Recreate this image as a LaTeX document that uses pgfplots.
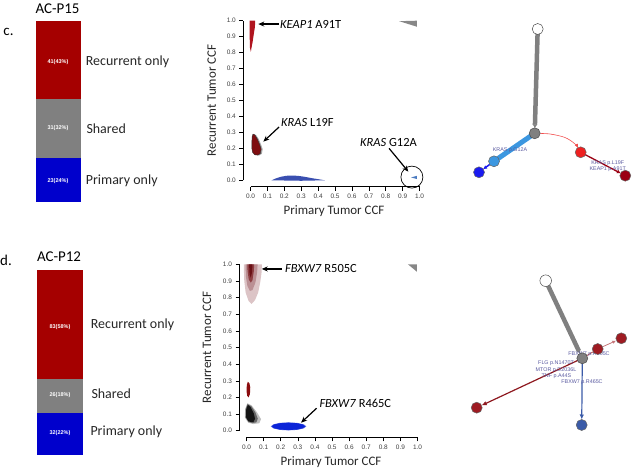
\documentclass[border=0pt]{standalone}
\usepackage{fontspec}
\setmainfont{Carlito}
\newfontfamily\arialf{Liberation Sans}
\usepackage{pgfplots}
\pgfplotsset{compat=1.18}
\usetikzlibrary{arrows.meta}
\definecolor{barred}{HTML}{A50000}
\definecolor{bargray}{HTML}{808080}
\definecolor{barblue}{HTML}{0000CC}
\definecolor{keapred}{HTML}{B0141F}
\definecolor{krasred}{HTML}{7E0D10}
\definecolor{humpblue}{HTML}{3A4FB0}
\definecolor{lblue}{HTML}{4B7BC0}
\definecolor{rose1}{HTML}{DCC4C6}
\definecolor{rose2}{HTML}{BB9094}
\definecolor{rose3}{HTML}{8E3E42}
\definecolor{rose4}{HTML}{6A1015}
\definecolor{ellblue}{HTML}{0B24D8}
\definecolor{treeblue}{HTML}{3C97E0}
\definecolor{treedblue}{HTML}{1A1AF0}
\definecolor{treered}{HTML}{EE2020}
\definecolor{treedred}{HTML}{9A0012}
\definecolor{treemred}{HTML}{9E1B22}
\definecolor{treenblue}{HTML}{3B5BA8}
\definecolor{txtblue}{HTML}{5A5AA0}
\pgfplotsset{
  rstyle/.style={
    scale only axis, xmin=0, xmax=1, ymin=0, ymax=1, clip=false,
    axis x line*=bottom, axis y line*=left, axis line style={-, black, line width=0.5bp},
    xtick={0,0.1,0.2,0.3,0.4,0.5,0.6,0.7,0.8,0.9,1},
    ytick={0,0.1,0.2,0.3,0.4,0.5,0.6,0.7,0.8,0.9,1},
    tick align=outside, major tick length=4bp, tick style={black, line width=0.5bp},
    /pgf/number format/assume math mode=true,
    xticklabel style={/pgf/number format/.cd, fixed, fixed zerofill, precision=1},
    yticklabel style={/pgf/number format/.cd, fixed, fixed zerofill, precision=1},
    tick label style={font=\arialf\fontsize{6.5}{7}\selectfont, text=black!75},
  },
  tree/.style={scale only axis, hide axis, y dir=reverse, clip=false, xmin=410, xmax=633, width=223bp},
  bars/.style={scale only axis, hide axis, ybar stacked, bar width=1, xmin=-0.5, xmax=0.5, clip=false},
}
\begin{document}
\begin{tikzpicture}
% ---------------- panel c ----------------
\node[font=\fontsize{15}{17}\selectfont] at (8.5bp,437.3bp) {c.};
\node[font=\fontsize{15}{17}\selectfont] at (57.5bp,460.7bp) {AC-P15};
\begin{axis}[bars, at={(36bp,267bp)}, anchor=south west, width=45bp, height=181bp, ymin=0, ymax=95]
\addplot[fill=barblue, draw=none] coordinates {(0,23)};
\addplot[fill=bargray, draw=none] coordinates {(0,31)};
\addplot[fill=barred, draw=none] coordinates {(0,41)};
\end{axis}
\begin{scope}[every node/.style={font=\arialf\bfseries\fontsize{5.5}{6}\selectfont, text=white}]
\node at (58bp,407bp) {41(43\%)};
\node at (58bp,341bp) {31(32\%)};
\node at (58bp,288bp) {23(24\%)};
\end{scope}
\begin{scope}[every node/.style={font=\fontsize{14}{16}\selectfont, anchor=west, inner sep=0pt, text=black!85}]
\node at (85.7bp,407.3bp) {Recurrent only};
\node at (86.3bp,340.7bp) {Shared};
\node at (85.7bp,288bp) {Primary only};
\end{scope}
\begin{axis}[rstyle, at={(250.5bp,288.7bp)}, anchor=south west, width=169bp, height=159.6bp,
  axis x line shift=6.4bp, axis y line shift=7.2bp]
% KEAP1 A91T wedge
\addplot[fill=keapred, draw=none] coordinates {(-0.005,1.0) (0.028,1.0) (0.026,0.96) (0.02,0.92) (0.013,0.87) (0.006,0.83) (0.002,0.805) (-0.003,0.83) (-0.005,0.9) (-0.005,0.97) (-0.005,1.0)};
% KRAS L19F blob
\addplot[fill=black!35, draw=none] coordinates {(0.02,0.29) (0.033,0.283) (0.048,0.26) (0.062,0.225) (0.072,0.195) (0.067,0.166) (0.052,0.156) (0.032,0.158) (0.02,0.175) (0.02,0.27) (0.02,0.29)};
\addplot[fill=krasred, draw=black!80, line width=0.4bp] coordinates {(0.015,0.29) (0.026,0.284) (0.04,0.26) (0.054,0.225) (0.063,0.195) (0.058,0.168) (0.044,0.158) (0.025,0.16) (0.012,0.175) (0.008,0.2) (0.008,0.24) (0.01,0.275) (0.015,0.29)};
% blue hump
\addplot[fill=humpblue, draw=none] coordinates {(0.125,0.0) (0.15,0.012) (0.18,0.022) (0.21,0.028) (0.24,0.03) (0.28,0.028) (0.32,0.022) (0.36,0.014) (0.40,0.007) (0.44,0.0) (0.3,-0.003) (0.125,0.0)};
% gray wedge
\addplot[fill=black!47, draw=none] coordinates {(0.88,0.997) (0.985,1.0) (0.985,0.962) (0.88,0.997)};
% KRAS G12A small blob and circle
\addplot[fill=lblue, draw=none] coordinates {(0.95,0.018) (0.985,0.028) (0.985,0.008) (0.95,0.018)};
\addplot[only marks, mark=o, mark size=11bp, mark options={draw=black, line width=0.7bp}] coordinates {(0.955,0.02)};
% arrows
\addplot[black, line width=1.2bp, -{Stealth[length=6bp,width=5bp]}] coordinates {(0.169,0.979) (0.046,0.979)};
\addplot[black, line width=1.2bp, -{Stealth[length=6bp,width=5bp]}] coordinates {(0.169,0.334) (0.076,0.242)};
\addplot[black, line width=1.2bp, -{Stealth[length=6bp,width=5bp]}] coordinates {(0.82,0.2) (0.934,0.054)};
\end{axis}
\node[rotate=90, font=\fontsize{13}{15}\selectfont, text=black!85] at (211.7bp,368.5bp) {Recurrent Tumor CCF};
\node[font=\fontsize{13}{15}\selectfont, text=black!85] at (334bp,258.3bp) {Primary Tumor CCF};
\begin{scope}[every node/.style={font=\fontsize{12.5}{14}\selectfont, anchor=west, inner sep=0pt}]
\node at (280bp,445bp) {\textit{KEAP1} A91T};
\node at (281bp,346.7bp) {\textit{KRAS} L19F};
\node at (360bp,326.3bp) {\textit{KRAS} G12A};
\node at (285bp,200bp) {\textit{FBXW7} R505C};
\node at (319.3bp,65.7bp) {\textit{FBXW7} R465C};
\end{scope}
% tree c
\begin{axis}[tree, at={(410bp,234bp)}, anchor=south west, ymin=0, ymax=235, height=235bp]
\addplot[black!50, line width=4.5bp, -{Latex[length=4bp,width=5bp]}, shorten >=5bp] coordinates {(537.7,29) (534.7,133.3)};
\addplot[treeblue, line width=5bp] coordinates {(534.7,133.3) (494,161.3)};
\addplot[treedblue, line width=1.5bp, -{Latex[length=4bp,width=4bp]}, shorten >=5bp] coordinates {(494,161.3) (479,172.3)};
\addplot[treered!80, line width=0.6bp, smooth, -{Latex[length=4bp,width=3.5bp]}, shorten >=5bp] coordinates {(534.7,133.3) (550,134) (565,137.5) (575,144) (580.7,152.3)};
\addplot[treedred, line width=1.3bp, -{Latex[length=4bp,width=4bp]}, shorten >=5bp] coordinates {(580.7,152.3) (625.3,175.7)};
\addplot[only marks, mark=*, mark size=5.5bp, mark options={fill=white, draw=black!70, line width=0.5bp}] coordinates {(537.7,29)};
\addplot[only marks, mark=*, mark size=5.5bp, mark options={fill=black!50, draw=black!70, line width=0.5bp}] coordinates {(534.7,133.3)};
\addplot[only marks, mark=*, mark size=5.5bp, mark options={fill=treeblue, draw=black!60, line width=0.5bp}] coordinates {(494,161.3)};
\addplot[only marks, mark=*, mark size=5.5bp, mark options={fill=treedblue, draw=black!60, line width=0.5bp}] coordinates {(479,172.3)};
\addplot[only marks, mark=*, mark size=5.5bp, mark options={fill=treered, draw=black!60, line width=0.5bp}] coordinates {(580.7,152.3)};
\addplot[only marks, mark=*, mark size=5.5bp, mark options={fill=treedred, draw=black!60, line width=0.5bp}] coordinates {(625.3,175.7)};
\begin{scope}[every node/.style={font=\arialf\fontsize{5.4}{6}\selectfont, text=txtblue, inner sep=0pt}]
\node at (axis cs:510,150) {KRAS p.G12A};
\node at (axis cs:607.7,163.3) {KRAS p.L19F};
\node at (axis cs:607.7,169.3) {KEAP1 p.A91T};
\end{scope}
\end{axis}
% ---------------- panel d ----------------
\node[font=\fontsize{15}{17}\selectfont] at (6bp,209bp) {d.};
\node[font=\fontsize{15}{17}\selectfont] at (59bp,212.3bp) {AC-P12};
\begin{axis}[bars, at={(37bp,14bp)}, anchor=south west, width=46bp, height=185bp, ymin=0, ymax=141]
\addplot[fill=barblue, draw=none] coordinates {(0,32)};
\addplot[fill=bargray, draw=none] coordinates {(0,26)};
\addplot[fill=barred, draw=none] coordinates {(0,83)};
\end{axis}
\begin{scope}[every node/.style={font=\arialf\bfseries\fontsize{5.5}{6}\selectfont, text=white}]
\node at (60bp,142bp) {83(58\%)};
\node at (60bp,74bp) {26(18\%)};
\node at (60bp,36bp) {32(22\%)};
\end{scope}
\begin{scope}[every node/.style={font=\fontsize{14}{16}\selectfont, anchor=west, inner sep=0pt, text=black!85}]
\node at (90.7bp,144bp) {Recurrent only};
\node at (91.3bp,75bp) {Shared};
\node at (90.3bp,37.3bp) {Primary only};
\end{scope}
\begin{axis}[rstyle, at={(246.5bp,38.3bp)}, anchor=south west, width=171bp, height=166.4bp,
  axis x line shift=6.6bp, axis y line shift=7bp]
% FBXW7 R505C contours
\addplot[fill=rose1, draw=none] coordinates {(-0.015,1.0) (0.09,1.0) (0.088,0.95) (0.08,0.89) (0.068,0.83) (0.05,0.785) (0.03,0.762) (0.012,0.78) (-0.005,0.83) (-0.013,0.9) (-0.015,0.96) (-0.015,1.0)};
\addplot[fill=rose2, draw=none] coordinates {(-0.005,1.0) (0.065,1.0) (0.062,0.95) (0.052,0.89) (0.035,0.845) (0.02,0.84) (0.005,0.87) (-0.004,0.93) (-0.005,1.0)};
\addplot[fill=rose3, draw=none] coordinates {(0.005,1.0) (0.045,1.0) (0.043,0.96) (0.035,0.905) (0.025,0.89) (0.013,0.91) (0.006,0.96) (0.005,1.0)};
\addplot[fill=rose4, draw=none] coordinates {(0.015,1.0) (0.035,1.0) (0.032,0.95) (0.025,0.92) (0.018,0.94) (0.015,1.0)};
% small red blob
\addplot[fill=krasred!90!red, draw=none] coordinates {(0.008,0.295) (0.017,0.285) (0.022,0.26) (0.02,0.22) (0.012,0.2) (0.004,0.21) (0.0,0.24) (0.002,0.275) (0.008,0.295)};
% black blob
\addplot[fill=black!25, draw=none] coordinates {(0.005,0.165) (0.03,0.152) (0.06,0.112) (0.085,0.07) (0.075,0.045) (0.04,0.04) (0.01,0.048) (-0.01,0.08) (-0.008,0.13) (0.005,0.165)};
\addplot[fill=black!60, draw=none] coordinates {(0.006,0.16) (0.028,0.148) (0.052,0.11) (0.066,0.072) (0.058,0.05) (0.035,0.046) (0.012,0.052) (-0.006,0.08) (-0.005,0.13) (0.006,0.16)};
\addplot[fill=black!92, draw=none] coordinates {(0.008,0.155) (0.024,0.142) (0.042,0.105) (0.05,0.072) (0.042,0.054) (0.025,0.052) (0.01,0.058) (-0.002,0.08) (-0.002,0.125) (0.008,0.155)};
% blue ellipse
\addplot[fill=ellblue!70!white, draw=none] coordinates {(0.35,0.026) (0.335,0.038) (0.296,0.047) (0.245,0.05) (0.194,0.047) (0.157,0.038) (0.142,0.026) (0.157,0.014) (0.194,0.005) (0.245,0.002) (0.296,0.005) (0.335,0.014) (0.35,0.026)};
\addplot[fill=ellblue, draw=none] coordinates {(0.342,0.026) (0.329,0.037) (0.294,0.045) (0.245,0.048) (0.197,0.045) (0.161,0.037) (0.148,0.026) (0.161,0.015) (0.197,0.007) (0.245,0.004) (0.294,0.007) (0.329,0.015) (0.342,0.026)};
% gray wedge
\addplot[fill=black!47, draw=none] coordinates {(0.944,1.0) (0.997,1.0) (0.997,0.955) (0.944,1.0)};
% arrows
\addplot[black, line width=1.2bp, -{Stealth[length=6bp,width=5bp]}] coordinates {(0.206,0.972) (0.089,0.972)};
\addplot[black, line width=1.2bp, -{Stealth[length=6bp,width=5bp]}] coordinates {(0.41,0.135) (0.319,0.048)};
\end{axis}
\node[rotate=90, font=\fontsize{13}{15}\selectfont, text=black!85] at (207bp,121.5bp) {Recurrent Tumor CCF};
\node[font=\fontsize{13}{15}\selectfont, text=black!85] at (331bp,7.3bp) {Primary Tumor CCF};
% tree d
\begin{axis}[tree, at={(410bp,0bp)}, anchor=south west, ymin=240, ymax=469, height=229bp]
\addplot[black!50, line width=4.5bp, -{Latex[length=4bp,width=5bp]}, shorten >=5bp] coordinates {(545.7,280.7) (582.3,358.3)};
\addplot[treemred!90!black, line width=1.2bp, -{Latex[length=5bp,width=4.5bp]}, shorten >=5.5bp] coordinates {(582.3,358.3) (476.7,407.7)};
\addplot[treenblue, line width=1.2bp, -{Latex[length=5bp,width=4.5bp]}, shorten >=5.5bp] coordinates {(582.3,358.3) (581.7,425)};
\addplot[treemred!80!white, line width=0.8bp] coordinates {(582.3,358.3) (597.7,349)};
\addplot[treemred!60!white, line width=0.8bp, -{Latex[length=4bp,width=3.5bp]}, shorten >=5.5bp] coordinates {(597.7,349) (621.3,338.3)};
\addplot[only marks, mark=*, mark size=5.8bp, mark options={fill=white, draw=black!70, line width=0.5bp}] coordinates {(545.7,280.7)};
\addplot[only marks, mark=*, mark size=5.5bp, mark options={fill=black!50, draw=black!70, line width=0.5bp}] coordinates {(582.3,358.3)};
\addplot[only marks, mark=*, mark size=5.5bp, mark options={fill=treemred, draw=black!60, line width=0.5bp}] coordinates {(597.7,349) (621.3,338.3) (476.7,407.7)};
\addplot[only marks, mark=*, mark size=5.5bp, mark options={fill=treenblue, draw=black!60, line width=0.5bp}] coordinates {(581.7,425)};
\begin{scope}[every node/.style={font=\arialf\fontsize{5.4}{6}\selectfont, text=txtblue, inner sep=0pt}]
\node at (axis cs:589,354.3) {FBXW7 p.R505C};
\node at (axis cs:556,363.3) {FLG p.N1470T};
\node at (axis cs:556,370) {MTOR p.D2036L};
\node at (axis cs:556.5,376) {TNF p.A44S};
\node at (axis cs:582,382) {FBXW7 p.R465C};
\end{scope}
\end{axis}
\pgfresetboundingbox
\path[use as bounding box] (0,0) rectangle (633bp,469bp);
\end{tikzpicture}
\end{document}
